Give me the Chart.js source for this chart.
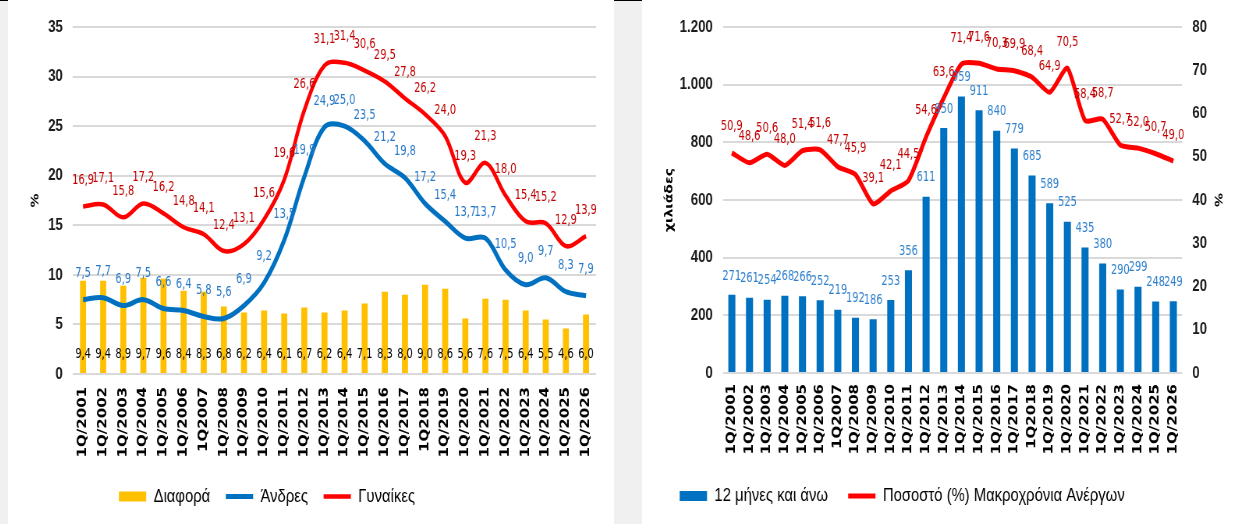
<!DOCTYPE html>
<html lang="el">
<head>
<meta charset="utf-8">
<title>Ανεργία - Μακροχρόνια Ανεργία</title>
<script src="https://cdn.jsdelivr.net/npm/chart.js@4.4.1/dist/chart.umd.min.js"></script>
<style>
  html, body { margin: 0; padding: 0; }
  body { width: 1242px; height: 524px; background: #f0f0f0; position: relative; overflow: hidden; }
  .panel { position: absolute; top: 0; height: 524px; background: #fff; }
  #leftPanel { left: 8px; width: 606px; }
  #rightPanel { left: 642px; width: 600px; }
  canvas { display: block; }
  .topline { position: absolute; top: 0; height: 1px; background: #000; }
</style>
</head>
<body>
<div class="panel" id="leftPanel">
  <!-- drawn wide, shown squeezed: the source image is compressed horizontally -->
  <canvas id="genderChart" width="777" height="524" style="width:606px;height:524px"></canvas>
</div>
<div class="panel" id="rightPanel">
  <canvas id="longTermChart" width="769" height="524" style="width:600px;height:524px"></canvas>
</div>
<div class="topline" style="left:0;width:8px"></div>
<div class="topline" style="left:614px;width:28px"></div>

<script>
// -------------------------
// Data
// -------------------------
const quarters = [
  "1Q/2001", "1Q/2002", "1Q/2003", "1Q/2004", "1Q/2005", "1Q/2006", "1Q2007",
  "1Q/2008", "1Q/2009", "1Q/2010", "1Q/2011", "1Q/2012", "1Q/2013", "1Q/2014",
  "1Q/2015", "1Q/2016", "1Q/2017", "1Q2018", "1Q/2019", "1Q/2020", "1Q/2021",
  "1Q/2022", "1Q/2023", "1Q/2024", "1Q/2025", "1Q/2026",
];

// left chart: unemployment rate by gender (%)
const gapValues = [9.4, 9.4, 8.9, 9.7, 9.6, 8.4, 8.3, 6.8, 6.2, 6.4, 6.1, 6.7, 6.2, 6.4, 7.1, 8.3, 8.0, 9.0, 8.6, 5.6, 7.6, 7.5, 6.4, 5.5, 4.6, 6.0];
const menValues = [7.5, 7.7, 6.9, 7.5, 6.6, 6.4, 5.8, 5.6, 6.9, 9.2, 13.5, 19.9, 24.9, 25.0, 23.5, 21.2, 19.8, 17.2, 15.4, 13.7, 13.7, 10.5, 9.0, 9.7, 8.3, 7.9];
const womenValues = [16.9, 17.1, 15.8, 17.2, 16.2, 14.8, 14.1, 12.4, 13.1, 15.6, 19.6, 26.6, 31.1, 31.4, 30.6, 29.5, 27.8, 26.2, 24.0, 19.3, 21.3, 18.0, 15.4, 15.2, 12.9, 13.9];

// right chart: long-term unemployed (thousands) and share (%)
const longTermThousands = [271, 261, 254, 268, 266, 252, 219, 192, 186, 253, 356, 611, 850, 959, 911, 840, 779, 685, 589, 525, 435, 380, 290, 299, 248, 249];
const longTermShare = [50.9, 48.6, 50.6, 48.0, 51.4, 51.6, 47.7, 45.9, 39.1, 42.1, 44.5, 54.6, 63.6, 71.4, 71.6, 70.3, 69.9, 68.4, 64.9, 70.5, 58.4, 58.7, 52.7, 52.0, 50.7, 49.0];

// axis ranges
const pctAxis = { max: 35, step: 5 };
const thousandsAxis = { max: 1200, step: 200 };
const shareAxis = { max: 80, step: 10 };

// the "Διαφορά" values are written in a row at this axis level
const GAP_LABEL_LEVEL = 2;

// -------------------------
// Formatting / fonts
// -------------------------
const fmt1 = v => v.toFixed(1).replace(".", ",");
const fmtInt = v => String(v);
const fmtThousands = v => String(v).replace(/\B(?=(\d{3})+(?!\d))/g, ".");

const TICK_FONT = { family: "'Liberation Sans', Arial, sans-serif", size: 17, weight: "bold" };
const CAT_FONT = { family: "'DejaVu Sans', sans-serif", size: 15, weight: "bold" };
const TITLE_FONT = { family: "'DejaVu Sans', sans-serif", size: 14, weight: "bold" };
const LEGEND_FONT = { family: "'Liberation Sans', Arial, sans-serif", size: 19 };
const VALUE_FONT = "14px 'Liberation Sans Narrow', 'DejaVu Sans Condensed', 'Liberation Sans', sans-serif";

// -------------------------
// Plugins
// -------------------------
const valueLabels = {
  id: "valueLabels",
  afterDatasetsDraw(chart) {
    const { ctx } = chart;
    ctx.save();
    ctx.textAlign = "center";
    ctx.textBaseline = "middle";
    ctx.font = VALUE_FONT;
    chart.data.datasets.forEach((ds, i) => {
      const cfg = ds.valueLabel;
      if (!cfg) return;
      const meta = chart.getDatasetMeta(i);
      const yScale = chart.scales[meta.yAxisID];
      ctx.fillStyle = cfg.color;
      meta.data.forEach((el, j) => {
        const y = cfg.atValue != null ? yScale.getPixelForValue(cfg.atValue) : el.y - cfg.lift;
        ctx.fillText(cfg.format(ds.data[j]), el.x, y);
      });
    });
    ctx.restore();
  },
};

// legend in the source sits left of centre
const legendShift = {
  id: "legendShift",
  afterLayout(chart, args, opts) {
    if (!chart.legend) return;
    chart.legend.left += opts.dx;
    chart.legend.right += opts.dx;
  },
};

const legendLabels = (padding) => ({
  usePointStyle: true,
  pointStyleWidth: 35,
  boxHeight: 10,
  padding,
  color: "#000",
  font: LEGEND_FONT,
  sort: (a, b) => a.datasetIndex - b.datasetIndex,
});

const grid = { color: "#d9d9d9", lineWidth: 2, drawTicks: false };

// -------------------------
// Left chart
// -------------------------
new Chart(document.getElementById("genderChart"), {
  type: "bar",
  data: {
    labels: quarters,
    datasets: [
      {
        type: "bar", label: "Διαφορά", data: gapValues,
        backgroundColor: "#ffc000", borderWidth: 0, pointStyle: "rect",
        barPercentage: 0.3, categoryPercentage: 1, order: 2,
        valueLabel: { color: "#000", atValue: GAP_LABEL_LEVEL, format: fmt1 },
      },
      {
        type: "line", label: "Άνδρες", data: menValues,
        borderColor: "#0070c0", backgroundColor: "#0070c0", borderWidth: 5,
        tension: 0.35, pointRadius: 0, pointStyle: "line", order: 1,
        valueLabel: { color: "#2878c8", lift: 26, format: fmt1 },
      },
      {
        type: "line", label: "Γυναίκες", data: womenValues,
        borderColor: "#ff0000", backgroundColor: "#ff0000", borderWidth: 4.5,
        tension: 0.35, pointRadius: 0, pointStyle: "line", order: 0,
        valueLabel: { color: "#c00000", lift: 26, format: fmt1 },
      },
    ],
  },
  options: {
    responsive: false,
    devicePixelRatio: 1,
    animation: false,
    layout: { padding: { top: 27, right: 23, bottom: 8, left: 0 } },
    plugins: {
      legend: { position: "bottom", labels: legendLabels(20) },
      tooltip: { enabled: false },
      legendShift: { dx: -45 },
    },
    scales: {
      x: {
        grid: { display: false, drawTicks: false },
        border: { display: false },
        ticks: { autoSkip: false, minRotation: 90, maxRotation: 90, padding: 13, color: "#000", font: CAT_FONT },
        afterFit: s => { s.height = 93; },
      },
      y: {
        min: 0, max: pctAxis.max,
        ticks: { stepSize: pctAxis.step, padding: 13, color: "#1a1a1a", font: TICK_FONT },
        grid,
        border: { display: false },
        title: { display: true, text: "%", color: "#000", font: TITLE_FONT, padding: { top: 27, bottom: 0 } },
        afterFit: s => { s.width = 83.3; },
      },
    },
  },
  plugins: [valueLabels, legendShift],
});

// -------------------------
// Right chart
// -------------------------
new Chart(document.getElementById("longTermChart"), {
  type: "bar",
  data: {
    labels: quarters,
    datasets: [
      {
        type: "bar", label: "12 μήνες και άνω", data: longTermThousands, yAxisID: "y",
        backgroundColor: "#0070c0", borderWidth: 0, pointStyle: "rect",
        barPercentage: 0.4, categoryPercentage: 1, order: 1,
        valueLabel: { color: "#2f80cc", lift: 19, format: fmtInt },
      },
      {
        type: "line", label: "Ποσοστό (%) Μακροχρόνια Ανέργων", data: longTermShare, yAxisID: "y1",
        borderColor: "#ff0000", backgroundColor: "#ff0000", borderWidth: 5,
        tension: 0.2, pointRadius: 0, pointStyle: "line", order: 0,
        valueLabel: { color: "#c00000", lift: 26, format: fmt1 },
      },
    ],
  },
  options: {
    responsive: false,
    devicePixelRatio: 1,
    animation: false,
    layout: { padding: { top: 27, right: 0, bottom: 8.5, left: 0 } },
    plugins: {
      legend: { position: "bottom", labels: legendLabels(26) },
      tooltip: { enabled: false },
      legendShift: { dx: -51 },
    },
    scales: {
      x: {
        grid: { display: false, drawTicks: false },
        border: { display: false },
        ticks: { autoSkip: false, minRotation: 90, maxRotation: 90, padding: 11, color: "#000", font: CAT_FONT },
        afterFit: s => { s.height = 87.5; },
      },
      y: {
        position: "left",
        min: 0, max: thousandsAxis.max,
        ticks: { stepSize: thousandsAxis.step, padding: 13, color: "#1a1a1a", font: TICK_FONT, callback: v => fmtThousands(v) },
        grid,
        border: { display: false },
        title: { display: true, text: "χιλιάδες", color: "#000", font: TITLE_FONT, padding: { top: 27, bottom: 0 } },
        afterFit: s => { s.width = 103.8; },
      },
      y1: {
        position: "right",
        min: 0, max: shareAxis.max,
        ticks: { stepSize: shareAxis.step, padding: 13, color: "#1a1a1a", font: TICK_FONT },
        grid: { drawOnChartArea: false, drawTicks: false },
        border: { display: false },
        title: { display: true, text: "%", color: "#000", font: TITLE_FONT, padding: { top: 23, bottom: 0 } },
        afterFit: s => { s.width = 76.7; },
      },
    },
  },
  plugins: [valueLabels, legendShift],
});
</script>
</body>
</html>
